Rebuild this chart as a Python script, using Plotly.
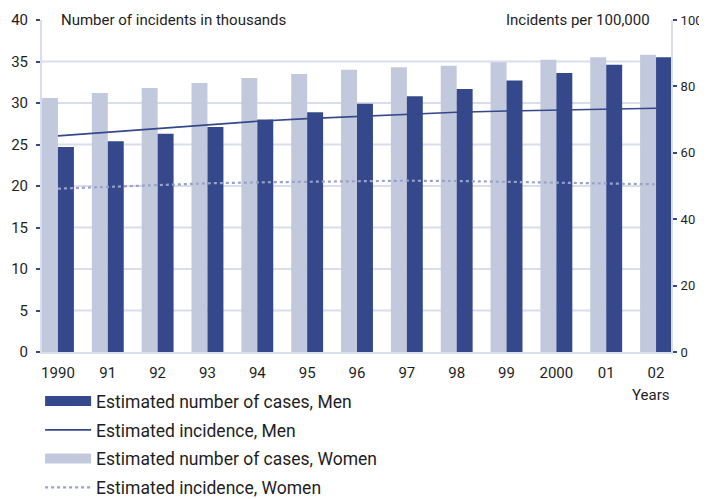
import plotly.graph_objects as go

years = ["1990", "91", "92", "93", "94", "95", "96", "97", "98", "99", "2000", "01", "02"]
cases_women = [30.6, 31.2, 31.8, 32.4, 33.0, 33.5, 34.0, 34.3, 34.5, 34.9, 35.2, 35.5, 35.8]
cases_men = [24.7, 25.4, 26.3, 27.1, 28.0, 28.9, 29.9, 30.8, 31.7, 32.7, 33.6, 34.6, 35.5]
incidence_men = [65.1, 66.2, 67.3, 68.4, 69.5, 70.3, 71.0, 71.6, 72.2, 72.6, 72.9, 73.2, 73.4]
incidence_women = [49.2, 49.8, 50.4, 50.8, 51.1, 51.3, 51.5, 51.6, 51.5, 51.3, 51.1, 50.8, 50.5]
left_ticks = [0, 5, 10, 15, 20, 25, 30, 35, 40]
right_ticks = [0, 20, 40, 60, 80, 100]

DARK = "#34488b"
LIGHT = "#c3c9dc"
GRID = "#dadeec"
DOT = "#9aa2cc"
TEXT = "#1e1e1e"
FONT = "Roboto, Lato, sans-serif"

fig = go.Figure()
# bars: women first so it sits on the left of each pair
fig.add_trace(go.Bar(x=years, y=cases_women, name="Estimated number of cases, Women",
                     marker=dict(color=LIGHT, line=dict(width=0)), showlegend=False))
fig.add_trace(go.Bar(x=years, y=cases_men, name="Estimated number of cases, Men",
                     marker=dict(color=DARK, line=dict(width=0)), showlegend=False))
# legend key for men's bars, drawn as a wide block
fig.add_trace(go.Scatter(x=[None], y=[None], name="Estimated number of cases, Men",
                         mode="lines", line=dict(color=DARK, width=12), legendrank=1,
                         legendgroup="a"))
fig.add_trace(go.Scatter(x=years, y=incidence_men, name="Estimated incidence, Men", yaxis="y2",
                         mode="lines", line=dict(color=DARK, width=1.6), legendrank=2,
                         legendgroup="b"))
# legend key for women's bars
fig.add_trace(go.Scatter(x=[None], y=[None], name="Estimated number of cases, Women",
                         mode="lines", line=dict(color=LIGHT, width=12), legendrank=3,
                         legendgroup="c"))
fig.add_trace(go.Scatter(x=years, y=incidence_women, name="Estimated incidence, Women", yaxis="y2",
                         mode="lines", line=dict(color=DOT, width=2.2, dash="dot"), legendrank=4,
                         legendgroup="d"))

# horizontal gridlines (no line at the top tick)
for v in left_ticks[1:-1]:
    fig.add_shape(type="line", xref="paper", x0=0, x1=1, yref="y", y0=v, y1=v,
                  line=dict(color=GRID, width=2), layer="below")

# the page adds an 8px body margin, so the figure is 8px smaller and margins compensate
fig.update_layout(
    width=699, height=491,
    margin=dict(l=34, r=36, t=12, b=147, autoexpand=False),
    plot_bgcolor="white", paper_bgcolor="white",
    barmode="group", bargap=0.36, bargroupgap=0,
    font=dict(family=FONT, color=TEXT, size=14),
    showlegend=True,
    legend=dict(x=-0.003, y=-0.094, xanchor="left", yanchor="top",
                font=dict(size=17.5, family=FONT, color=TEXT),
                tracegroupgap=3, itemwidth=46, bgcolor="rgba(0,0,0,0)",
                traceorder="grouped"),
    xaxis=dict(type="category", range=[-0.32, 12.3], showgrid=False, automargin=False,
               showline=True, linecolor=GRID, linewidth=2,
               ticks="", ticklabelstandoff=6,
               tickfont=dict(size=15, family=FONT, color=TEXT)),
    yaxis=dict(range=[0, 40], tickvals=left_ticks, showgrid=False, zeroline=False,
               automargin=False,
               showline=True, linecolor=GRID, linewidth=2,
               ticks="outside", ticklen=4, tickcolor=DARK, tickwidth=1.5,
               ticklabelstandoff=5, tickfont=dict(size=15, family=FONT, color=TEXT)),
    yaxis2=dict(range=[0, 100], tickvals=right_ticks, overlaying="y", side="right",
                showgrid=False, zeroline=False, automargin=False,
                showline=True, linecolor=GRID, linewidth=2,
                ticks="outside", ticklen=4, tickcolor=DARK, tickwidth=1.5,
                ticklabelstandoff=1, tickfont=dict(size=13, family=FONT, color=TEXT)),
    annotations=[
        dict(text="Number of incidents in thousands", xref="paper", yref="paper",
             x=0.027, y=1.0, xanchor="left", yanchor="middle", showarrow=False,
             font=dict(size=15, family=FONT, color=TEXT)),
        dict(text="Incidents per 100,000", xref="paper", yref="paper",
             x=0.97, y=1.0, xanchor="right", yanchor="middle", showarrow=False,
             font=dict(size=15, family=FONT, color=TEXT)),
        dict(text="Years", xref="paper", yref="paper",
             x=1.0, y=-0.13, xanchor="right", yanchor="middle", showarrow=False,
             font=dict(size=15, family=FONT, color=TEXT)),
    ],
)

fig.write_html("out.html")
